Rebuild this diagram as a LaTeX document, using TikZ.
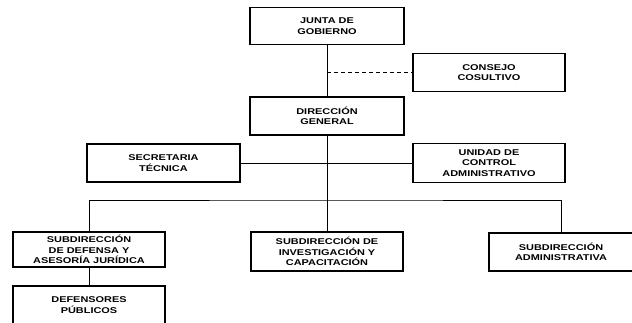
\documentclass[tikz,border=0pt]{standalone}
\usepackage{fontspec}
\newfontfamily\orgfont[FakeStretch=1.3]{Liberation Sans}

\begin{document}
\begin{tikzpicture}[x=1pt,y=-1pt,
	caja/.style={draw, line width=1.4pt, align=center, inner sep=0pt,
		minimum width=152pt, minimum height=38pt,
		font=\orgfont\bfseries\fontsize{8.4}{10.5}\selectfont},
	liga/.style={line width=0.9pt}]
	\useasboundingbox (0,0) rectangle (632,323);

	\node[caja, minimum width=154pt, minimum height=37pt] (junta) at (327,26) {JUNTA DE\\GOBIERNO};
	\node[caja] (consejo) at (489,72.5) {CONSEJO\\COSULTIVO};
	\node[caja, minimum width=154pt] (direccion) at (327,116) {DIRECCIÓN\\GENERAL};
	\node[caja, minimum width=153pt] (secretaria) at (163.5,163) {SECRETARIA\\TÉCNICA};
	\node[caja, minimum height=39pt] (unidad) at (489,163) {UNIDAD DE\\CONTROL\\ADMINISTRATIVO};
	\node[caja, minimum height=35pt] (subdef) at (89,249.5) {SUBDIRECCIÓN\\DE DEFENSA Y\\ASESORÍA JURÍDICA};
	\node[caja, minimum height=39pt] (subinv) at (327,251.5) {SUBDIRECCIÓN DE\\INVESTIGACIÓN Y\\CAPACITACIÓN};
	\node[caja, minimum width=144pt] (subadm) at (561,252) {SUBDIRECCIÓN\\ADMINISTRATIVA};
	\node[caja] (defensores) at (89,305) {DEFENSORES\\PÚBLICOS};

	\coordinate (consul) at (327,72.5);
	\coordinate (bus) at (327,200);

	\draw[liga] (junta) -- (direccion);
	\draw[liga, dash pattern=on 4pt off 3pt] (consul) -- (consejo.west);
	\draw[liga] (secretaria) -- (unidad);
	\draw[liga] (direccion) -- (subinv);
	\draw[liga] (subdef) |- (bus) -| (subadm);
	\draw[liga] (subdef) -- (defensores);

\end{tikzpicture}
\end{document}
